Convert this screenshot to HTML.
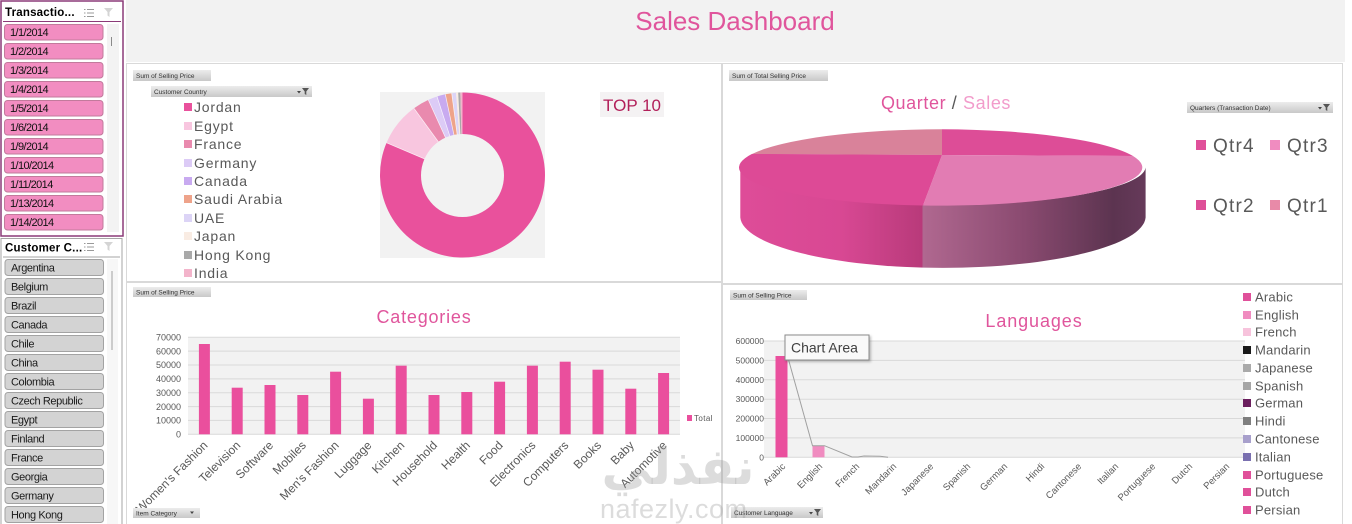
<!DOCTYPE html>
<html><head><meta charset="utf-8"><style>
html,body{margin:0;padding:0;background:#fff;}
svg{display:block;}
text{font-family:"Liberation Sans",sans-serif;}
</style></head><body>
<svg width="1352" height="524" viewBox="0 0 1352 524" xmlns="http://www.w3.org/2000/svg">
<defs>
<linearGradient id="btn" x1="0" y1="0" x2="0" y2="1"><stop offset="0" stop-color="#ececec"/><stop offset="1" stop-color="#c8c8c8"/></linearGradient>
<linearGradient id="side" gradientUnits="userSpaceOnUse" x1="740" y1="0" x2="1146" y2="0">
<stop offset="0" stop-color="#de4c98"/><stop offset="0.25" stop-color="#d84893"/><stop offset="0.45" stop-color="#b83a7a"/>
<stop offset="0.45" stop-color="#b06890"/><stop offset="0.7" stop-color="#8a4a70"/><stop offset="0.92" stop-color="#5c3450"/><stop offset="1" stop-color="#663a5a"/>
</linearGradient>
<filter id="sh" x="-10%" y="-10%" width="130%" height="140%"><feDropShadow dx="1.5" dy="1.5" stdDeviation="1.2" flood-color="#000" flood-opacity="0.25"/></filter>
</defs>

<!-- title band -->
<rect x="126" y="0" width="1219" height="62" fill="#f2f2f2"/>
<text x="735" y="30" font-size="26" fill="#e0559c" text-anchor="middle">Sales Dashboard</text>

<!-- panels -->
<rect x="126.5" y="63.5" width="595" height="218" fill="#fff" stroke="#d9d9d9"/>
<rect x="722.5" y="63.5" width="620" height="220" fill="#fff" stroke="#d9d9d9"/>
<rect x="126.5" y="282.5" width="595" height="250" fill="#fff" stroke="#d9d9d9"/>
<rect x="722.5" y="284.5" width="620" height="250" fill="#fff" stroke="#d9d9d9"/>

<!-- ============ Slicer 1 ============ -->
<rect x="1" y="1" width="122" height="235" fill="#fff" stroke="#8b3a78" stroke-width="1.5"/>
<text x="5" y="16" font-size="11.5" font-weight="bold" fill="#000" letter-spacing="0.2">Transactio...</text>
<g stroke="#9a9a9a" stroke-width="1"><line x1="87" y1="9.5" x2="94" y2="9.5"/><line x1="87" y1="13" x2="94" y2="13"/><line x1="87" y1="16.5" x2="94" y2="16.5"/><line x1="84" y1="9.5" x2="85.5" y2="9.5"/><line x1="84" y1="13" x2="85.5" y2="13"/><line x1="84" y1="16.5" x2="85.5" y2="16.5"/></g>
<path d="M104 8 L113 8 L109.5 12 L109.5 17 L107.5 15.5 L107.5 12 Z" fill="#d4d4d4"/>
<line x1="3" y1="21.5" x2="121" y2="21.5" stroke="#8b3a78"/>
<rect x="107" y="24" width="12" height="208" fill="#f3f3f3"/>
<line x1="111.5" y1="37" x2="111.5" y2="46" stroke="#8a8a8a"/>
<g font-size="11" fill="#111" letter-spacing="-0.6">
<rect x="4.5" y="24.5" width="98.5" height="15.5" rx="3" fill="#f28dc1" stroke="#c27a9c"/><text x="10" y="36">1/1/2014</text>
<rect x="4.5" y="43.5" width="98.5" height="15.5" rx="3" fill="#f28dc1" stroke="#c27a9c"/><text x="10" y="55">1/2/2014</text>
<rect x="4.5" y="62.5" width="98.5" height="15.5" rx="3" fill="#f28dc1" stroke="#c27a9c"/><text x="10" y="74">1/3/2014</text>
<rect x="4.5" y="81.5" width="98.5" height="15.5" rx="3" fill="#f28dc1" stroke="#c27a9c"/><text x="10" y="93">1/4/2014</text>
<rect x="4.5" y="100.5" width="98.5" height="15.5" rx="3" fill="#f28dc1" stroke="#c27a9c"/><text x="10" y="112">1/5/2014</text>
<rect x="4.5" y="119.5" width="98.5" height="15.5" rx="3" fill="#f28dc1" stroke="#c27a9c"/><text x="10" y="131">1/6/2014</text>
<rect x="4.5" y="138.5" width="98.5" height="15.5" rx="3" fill="#f28dc1" stroke="#c27a9c"/><text x="10" y="150">1/9/2014</text>
<rect x="4.5" y="157.5" width="98.5" height="15.5" rx="3" fill="#f28dc1" stroke="#c27a9c"/><text x="10" y="169">1/10/2014</text>
<rect x="4.5" y="176.5" width="98.5" height="15.5" rx="3" fill="#f28dc1" stroke="#c27a9c"/><text x="10" y="188">1/11/2014</text>
<rect x="4.5" y="195.5" width="98.5" height="15.5" rx="3" fill="#f28dc1" stroke="#c27a9c"/><text x="10" y="207">1/13/2014</text>
<rect x="4.5" y="214.5" width="98.5" height="15.5" rx="3" fill="#f28dc1" stroke="#c27a9c"/><text x="10" y="226">1/14/2014</text>
</g>

<!-- ============ Slicer 2 ============ -->
<rect x="1" y="238.5" width="121" height="290" fill="#fff" stroke="#a5a5a5"/>
<text x="5" y="251.5" font-size="11.5" font-weight="bold" fill="#000" letter-spacing="0.2">Customer C...</text>
<g stroke="#9a9a9a" stroke-width="1"><line x1="87" y1="243.5" x2="94" y2="243.5"/><line x1="87" y1="247" x2="94" y2="247"/><line x1="87" y1="250.5" x2="94" y2="250.5"/><line x1="84" y1="243.5" x2="85.5" y2="243.5"/><line x1="84" y1="247" x2="85.5" y2="247"/><line x1="84" y1="250.5" x2="85.5" y2="250.5"/></g>
<path d="M104 242 L113 242 L109.5 246 L109.5 251 L107.5 249.5 L107.5 246 Z" fill="#d4d4d4"/>
<line x1="3" y1="257" x2="120" y2="257" stroke="#a5a5a5"/>
<rect x="107" y="259" width="11" height="265" fill="#f7f7f7"/>
<line x1="112" y1="271" x2="112" y2="350" stroke="#a0a0a0"/>
<g font-size="11" fill="#1a1a1a" letter-spacing="-0.4">
<rect x="5" y="259.5" width="98.5" height="16" rx="3" fill="#d3d3d3" stroke="#a3a3a3"/><text x="11" y="271.5">Argentina</text>
<rect x="5" y="278.5" width="98.5" height="16" rx="3" fill="#d3d3d3" stroke="#a3a3a3"/><text x="11" y="290.5">Belgium</text>
<rect x="5" y="297.5" width="98.5" height="16" rx="3" fill="#d3d3d3" stroke="#a3a3a3"/><text x="11" y="309.5">Brazil</text>
<rect x="5" y="316.5" width="98.5" height="16" rx="3" fill="#d3d3d3" stroke="#a3a3a3"/><text x="11" y="328.5">Canada</text>
<rect x="5" y="335.5" width="98.5" height="16" rx="3" fill="#d3d3d3" stroke="#a3a3a3"/><text x="11" y="347.5">Chile</text>
<rect x="5" y="354.5" width="98.5" height="16" rx="3" fill="#d3d3d3" stroke="#a3a3a3"/><text x="11" y="366.5">China</text>
<rect x="5" y="373.5" width="98.5" height="16" rx="3" fill="#d3d3d3" stroke="#a3a3a3"/><text x="11" y="385.5">Colombia</text>
<rect x="5" y="392.5" width="98.5" height="16" rx="3" fill="#d3d3d3" stroke="#a3a3a3"/><text x="11" y="404.5">Czech Republic</text>
<rect x="5" y="411.5" width="98.5" height="16" rx="3" fill="#d3d3d3" stroke="#a3a3a3"/><text x="11" y="423.5">Egypt</text>
<rect x="5" y="430.5" width="98.5" height="16" rx="3" fill="#d3d3d3" stroke="#a3a3a3"/><text x="11" y="442.5">Finland</text>
<rect x="5" y="449.5" width="98.5" height="16" rx="3" fill="#d3d3d3" stroke="#a3a3a3"/><text x="11" y="461.5">France</text>
<rect x="5" y="468.5" width="98.5" height="16" rx="3" fill="#d3d3d3" stroke="#a3a3a3"/><text x="11" y="480.5">Georgia</text>
<rect x="5" y="487.5" width="98.5" height="16" rx="3" fill="#d3d3d3" stroke="#a3a3a3"/><text x="11" y="499.5">Germany</text>
<rect x="5" y="506.5" width="98.5" height="16" rx="3" fill="#d3d3d3" stroke="#a3a3a3"/><text x="11" y="518.5">Hong Kong</text>
</g>

<!-- ============ TL panel: donut ============ -->
<rect x="133" y="70" width="78" height="11" fill="url(#btn)"/>
<text x="136" y="78" font-size="6.5" fill="#333">Sum of Selling Price</text>
<rect x="151" y="86" width="161" height="11" fill="url(#btn)"/>
<text x="154" y="94" font-size="6.5" fill="#333">Customer Country</text>
<path d="M297 91 L301 91 L299 93.5 Z" fill="#444"/><path d="M302 88 L309 88 L306.3 91.5 L306.3 95 L304.7 94 L304.7 91.5 Z" fill="#555"/>

<g font-size="14" fill="#595959" letter-spacing="0.8">
<rect x="184" y="103" width="8" height="8" fill="#e9519c"/><text x="194" y="112">Jordan</text>
<rect x="184" y="122" width="8" height="8" fill="#f8c6df"/><text x="194" y="131">Egypt</text>
<rect x="184" y="140" width="8" height="8" fill="#e98aae"/><text x="194" y="149">France</text>
<rect x="184" y="159" width="8" height="8" fill="#dccbf6"/><text x="194" y="168">Germany</text>
<rect x="184" y="177" width="8" height="8" fill="#c8aaf0"/><text x="194" y="186">Canada</text>
<rect x="184" y="195" width="8" height="8" fill="#eea38a"/><text x="194" y="204">Saudi Arabia</text>
<rect x="184" y="214" width="8" height="8" fill="#dcd4f6"/><text x="194" y="223">UAE</text>
<rect x="184" y="232" width="8" height="8" fill="#f9ece3"/><text x="194" y="241">Japan</text>
<rect x="184" y="251" width="8" height="8" fill="#a9a9a9"/><text x="194" y="260">Hong Kong</text>
<rect x="184" y="269" width="8" height="8" fill="#f3b4cb"/><text x="194" y="278">India</text>
</g>

<rect x="380" y="92" width="165" height="166" fill="#f2f2f2"/>
<g transform="translate(462.5,175) scale(82.5)">
<path d="M0 0 L0 -1 A1 1 0 1 1 -0.9205 -0.3907 Z" fill="#e9519c"/>
<path d="M0 0 L-0.9205 -0.3907 A1 1 0 0 1 -0.5878 -0.8090 Z" fill="#f8c6df"/>
<path d="M0 0 L-0.5878 -0.8090 A1 1 0 0 1 -0.4147 -0.9100 Z" fill="#e98aae"/>
<path d="M0 0 L-0.4147 -0.9100 A1 1 0 0 1 -0.3090 -0.9511 Z" fill="#dccbf6"/>
<path d="M0 0 L-0.3090 -0.9511 A1 1 0 0 1 -0.2079 -0.9781 Z" fill="#c8aaf0"/>
<path d="M0 0 L-0.2079 -0.9781 A1 1 0 0 1 -0.1305 -0.9914 Z" fill="#eea38a"/>
<path d="M0 0 L-0.1305 -0.9914 A1 1 0 0 1 -0.0785 -0.9969 Z" fill="#dcd4f6"/>
<path d="M0 0 L-0.0785 -0.9969 A1 1 0 0 1 -0.0523 -0.9986 Z" fill="#f9ece3"/>
<path d="M0 0 L-0.0523 -0.9986 A1 1 0 0 1 -0.0262 -0.9997 Z" fill="#a9a9a9"/>
<path d="M0 0 L-0.0262 -0.9997 A1 1 0 0 1 0 -1 Z" fill="#f3b4cb"/>
</g>
<g stroke="#ffffff" stroke-width="0.7" opacity="0.8">
<line x1="462.5" y1="175" x2="386.6" y2="142.8"/>
<line x1="462.5" y1="175" x2="414" y2="108.3"/>
<line x1="462.5" y1="175" x2="428.3" y2="99.9"/>
<line x1="462.5" y1="175" x2="437" y2="96.5"/>
<line x1="462.5" y1="175" x2="445.3" y2="94.3"/>
<line x1="462.5" y1="175" x2="451.7" y2="93.2"/>
</g>
<circle cx="462.5" cy="175.5" r="41.5" fill="#f2f2f2"/>

<rect x="600" y="92" width="64" height="25" fill="#f4f2f3"/>
<text x="632" y="111" font-size="17" fill="#b2205a" text-anchor="middle">TOP 10</text>

<!-- ============ TR panel: 3D pie ============ -->
<rect x="729" y="70" width="99" height="11" fill="url(#btn)"/>
<text x="732" y="78" font-size="6.5" fill="#333">Sum of Total Selling Price</text>
<text x="946" y="109" font-size="18" text-anchor="middle" letter-spacing="0.6"><tspan fill="#e0559c">Quarter</tspan><tspan fill="#595959"> / </tspan><tspan fill="#f29ccb">Sales</tspan></text>
<rect x="1187" y="102" width="146" height="11" fill="url(#btn)"/>
<text x="1190" y="110" font-size="6.5" fill="#333">Quarters (Transaction Date)</text>
<path d="M1318 107 L1322 107 L1320 109.5 Z" fill="#444"/><path d="M1323 104 L1330 104 L1327.3 107.5 L1327.3 111 L1325.7 110 L1325.7 107.5 Z" fill="#555"/>

<path d="M740.3 167.5 L740.3 217.5 A202.7 51.5 0 0 0 1145.6 217.5 L1145.6 167.5 A202.7 38.2 0 0 1 740.3 167.5 Z" fill="url(#side)"/>
<path d="M942 155 L942 129.3 A202.7 38.2 0 0 1 1133 156 Z" fill="#dd4d97"/>
<path d="M942 155 L1133 156 A202.7 38.2 0 0 1 923 205.5 Z" fill="#e27cb3"/>
<path d="M942 155 L923 205.5 A202.7 38.2 0 0 1 752 154 Z" fill="#dd4a96"/>
<path d="M942 155 L752 154 A202.7 38.2 0 0 1 942 129.3 Z" fill="#d9829a"/>
<path d="M740.3 167.5 A202.7 38.2 0 0 1 752 154 L942 155 Z" fill="#dd4a96"/>

<g font-size="19" fill="#595959" letter-spacing="1.2">
<rect x="1196" y="140" width="10" height="10" fill="#e0509a"/><text x="1213" y="152">Qtr4</text>
<rect x="1270" y="140" width="10" height="10" fill="#f08cc0"/><text x="1287" y="152">Qtr3</text>
<rect x="1196" y="200" width="10" height="10" fill="#de4f98"/><text x="1213" y="212">Qtr2</text>
<rect x="1270" y="200" width="10" height="10" fill="#e88aa8"/><text x="1287" y="212">Qtr1</text>
</g>

<!-- ============ BL panel: Categories ============ -->
<rect x="133" y="287" width="78" height="10" fill="url(#btn)"/>
<text x="136" y="294.5" font-size="6.5" fill="#333">Sum of Selling Price</text>
<text x="424" y="323" font-size="18" fill="#e0559c" text-anchor="middle" letter-spacing="0.8">Categories</text>
<rect x="188" y="337.3" width="492" height="97" fill="#f2f2f2"/>
<g stroke="#d9d9d9" stroke-width="1">
<line x1="188" y1="337.3" x2="680" y2="337.3"/><line x1="188" y1="351.1" x2="680" y2="351.1"/><line x1="188" y1="365" x2="680" y2="365"/><line x1="188" y1="378.9" x2="680" y2="378.9"/><line x1="188" y1="392.7" x2="680" y2="392.7"/><line x1="188" y1="406.6" x2="680" y2="406.6"/><line x1="188" y1="420.4" x2="680" y2="420.4"/><line x1="188" y1="434.3" x2="680" y2="434.3"/>
</g>
<g font-size="9" fill="#595959" text-anchor="end">
<text x="181" y="340.5">70000</text><text x="181" y="354.3">60000</text><text x="181" y="368.2">50000</text><text x="181" y="382.1">40000</text><text x="181" y="395.9">30000</text><text x="181" y="409.8">20000</text><text x="181" y="423.6">10000</text><text x="181" y="437.5">0</text>
</g>
<g fill="#ea4f9d">
<rect x="198.9" y="344" width="11" height="90.3"/>
<rect x="231.7" y="387.7" width="11" height="46.6"/>
<rect x="264.5" y="385" width="11" height="49.3"/>
<rect x="297.3" y="395" width="11" height="39.3"/>
<rect x="330.1" y="371.7" width="11" height="62.6"/>
<rect x="362.9" y="398.7" width="11" height="35.6"/>
<rect x="395.7" y="365.7" width="11" height="68.6"/>
<rect x="428.5" y="395" width="11" height="39.3"/>
<rect x="461.3" y="392" width="11" height="42.3"/>
<rect x="494.1" y="381.7" width="11" height="52.6"/>
<rect x="526.9" y="365.7" width="11" height="68.6"/>
<rect x="559.7" y="361.7" width="11" height="72.6"/>
<rect x="592.5" y="369.7" width="11" height="64.6"/>
<rect x="625.3" y="388.7" width="11" height="45.6"/>
<rect x="658.1" y="373" width="11" height="61.3"/>
</g>
<rect x="687" y="415" width="5" height="6" fill="#ea4f9d"/>
<text x="694" y="421" font-size="8" fill="#595959" letter-spacing="0.4">Total</text>
<g font-size="12" fill="#595959" text-anchor="end">
<text transform="translate(208.4,446) rotate(-45)">Women's Fashion</text>
<text transform="translate(241.2,446) rotate(-45)">Television</text>
<text transform="translate(274,446) rotate(-45)">Software</text>
<text transform="translate(306.8,446) rotate(-45)">Mobiles</text>
<text transform="translate(339.6,446) rotate(-45)">Men's Fashion</text>
<text transform="translate(372.4,446) rotate(-45)">Luggage</text>
<text transform="translate(405.2,446) rotate(-45)">Kitchen</text>
<text transform="translate(438,446) rotate(-45)">Household</text>
<text transform="translate(470.8,446) rotate(-45)">Health</text>
<text transform="translate(503.6,446) rotate(-45)">Food</text>
<text transform="translate(536.4,446) rotate(-45)">Electronics</text>
<text transform="translate(569.2,446) rotate(-45)">Computers</text>
<text transform="translate(602,446) rotate(-45)">Books</text>
<text transform="translate(634.8,446) rotate(-45)">Baby</text>
<text transform="translate(667.6,446) rotate(-45)">Automotive</text>
</g>
<rect x="133" y="508" width="67" height="10" fill="url(#btn)"/>
<text x="136" y="515.5" font-size="6.5" fill="#333">Item Category</text>
<path d="M190 511.5 L194 511.5 L192 514 Z" fill="#444"/>

<!-- ============ BR panel: Languages ============ -->
<rect x="730" y="290" width="77" height="10" fill="url(#btn)"/>
<text x="733" y="297.5" font-size="6.5" fill="#333">Sum of Selling Price</text>
<text x="1034" y="327" font-size="18" fill="#e0559c" text-anchor="middle" letter-spacing="0.9">Languages</text>
<rect x="764" y="341" width="481" height="116.3" fill="#f2f2f2"/>
<g stroke="#d9d9d9" stroke-width="1">
<line x1="764" y1="341" x2="1245" y2="341"/><line x1="764" y1="360.4" x2="1245" y2="360.4"/><line x1="764" y1="379.8" x2="1245" y2="379.8"/><line x1="764" y1="399.2" x2="1245" y2="399.2"/><line x1="764" y1="418.5" x2="1245" y2="418.5"/><line x1="764" y1="437.9" x2="1245" y2="437.9"/><line x1="764" y1="457.3" x2="1245" y2="457.3"/>
</g>
<g font-size="8.5" fill="#595959" text-anchor="end">
<text x="764" y="344">600000</text><text x="764" y="363.4">500000</text><text x="764" y="382.8">400000</text><text x="764" y="402.2">300000</text><text x="764" y="421.5">200000</text><text x="764" y="440.9">100000</text><text x="764" y="460.3">0</text>
</g>
<rect x="775.5" y="356" width="12" height="101.3" fill="#ea4f9d"/>
<rect x="812.5" y="445.7" width="12" height="11.6" fill="#f08cc0"/>
<polyline points="787.5,356 812.5,445.7 824.5,445.7 852,457 858,457 864,456 880,456.3 888,457.3" fill="none" stroke="#a0a0a0" stroke-width="1"/>
<g font-size="9.5" fill="#595959" text-anchor="end">
<text transform="translate(786,467) rotate(-45)">Arabic</text>
<text transform="translate(823,467) rotate(-45)">English</text>
<text transform="translate(860,467) rotate(-45)">French</text>
<text transform="translate(897,467) rotate(-45)">Mandarin</text>
<text transform="translate(934,467) rotate(-45)">Japanese</text>
<text transform="translate(971,467) rotate(-45)">Spanish</text>
<text transform="translate(1008,467) rotate(-45)">German</text>
<text transform="translate(1045,467) rotate(-45)">Hindi</text>
<text transform="translate(1082,467) rotate(-45)">Cantonese</text>
<text transform="translate(1119,467) rotate(-45)">Italian</text>
<text transform="translate(1156,467) rotate(-45)">Portuguese</text>
<text transform="translate(1193,467) rotate(-45)">Dutch</text>
<text transform="translate(1230,467) rotate(-45)">Persian</text>
</g>
<g font-size="13" fill="#595959" letter-spacing="0.2">
<rect x="1243" y="293" width="8" height="8" fill="#e0509a"/><text x="1255" y="301.5">Arabic</text>
<rect x="1243" y="311" width="8" height="8" fill="#f08cc0"/><text x="1255" y="319.5">English</text>
<rect x="1243" y="328" width="8" height="8" fill="#f7c3dc"/><text x="1255" y="336.5">French</text>
<rect x="1243" y="346" width="8" height="8" fill="#1a1a1a"/><text x="1255" y="354.5">Mandarin</text>
<rect x="1243" y="364" width="8" height="8" fill="#aaaaaa"/><text x="1255" y="372.5">Japanese</text>
<rect x="1243" y="382" width="8" height="8" fill="#a6a6a6"/><text x="1255" y="390.5">Spanish</text>
<rect x="1243" y="399" width="8" height="8" fill="#6b1f5e"/><text x="1255" y="407.5">German</text>
<rect x="1243" y="417" width="8" height="8" fill="#7f7f7f"/><text x="1255" y="425.5">Hindi</text>
<rect x="1243" y="435" width="8" height="8" fill="#a8a0cc"/><text x="1255" y="443.5">Cantonese</text>
<rect x="1243" y="453" width="8" height="8" fill="#7a70b0"/><text x="1255" y="461.5">Italian</text>
<rect x="1243" y="471" width="8" height="8" fill="#e0509a"/><text x="1255" y="479.5">Portuguese</text>
<rect x="1243" y="488" width="8" height="8" fill="#e0509a"/><text x="1255" y="496.5">Dutch</text>
<rect x="1243" y="506" width="8" height="8" fill="#e0509a"/><text x="1255" y="514.5">Persian</text>
</g>
<rect x="731" y="507" width="92" height="11" fill="url(#btn)"/>
<text x="734" y="515" font-size="6.5" fill="#333">Customer Language</text>
<path d="M809 512 L813 512 L811 514.5 Z" fill="#444"/><path d="M814 509 L821 509 L818.3 512.5 L818.3 516 L816.7 515 L816.7 512.5 Z" fill="#555"/>

<!-- tooltip -->
<rect x="785" y="335" width="84" height="25" fill="#f9f9f9" stroke="#8a8a8a" filter="url(#sh)"/>
<text x="791" y="352.5" font-size="14" fill="#404040">Chart Area</text>

<!-- watermark -->
<text x="678" y="484" font-size="50" font-weight="bold" fill="#9a9a9a" fill-opacity="0.35" text-anchor="middle" style="font-family:'DejaVu Sans',sans-serif">نفذلي</text>
<text x="600" y="518" font-size="27" fill="#9a9a9a" fill-opacity="0.35" letter-spacing="0.5">nafezly.com</text>
</svg>
</body></html>
